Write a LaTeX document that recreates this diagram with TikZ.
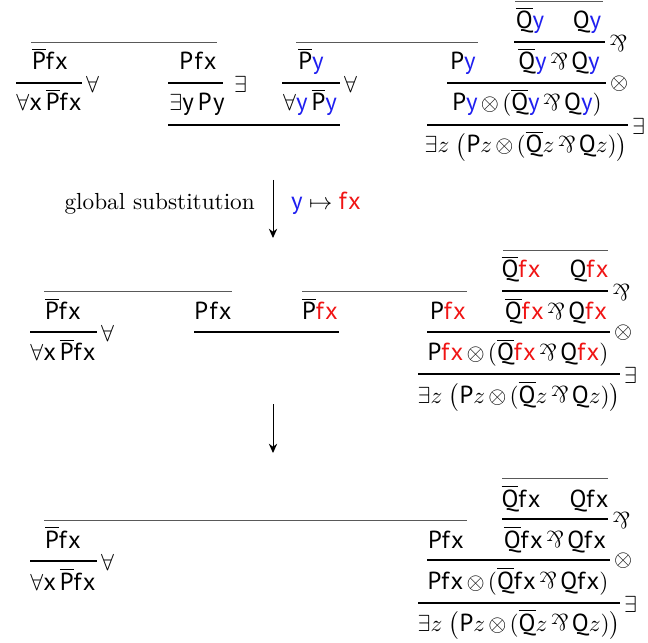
\documentclass[tikz,border=0pt]{standalone}
\usepackage{fontspec}
\usepackage{amsmath, graphicx, xcolor}
\usetikzlibrary{arrows.meta}
\newfontfamily\atomfont[Scale=1.06, LetterSpace=6]{PT Sans}
\definecolor{VARblue}{HTML}{1F1FF0}
\definecolor{TERMred}{HTML}{F01414}
\newcommand{\atm}[1]{\text{\atomfont #1}}
\newcommand{\dl}[1]{\overline{\atm{#1}}}
\newcommand{\vy}{\textcolor{VARblue}{\atm{y}}}
\newcommand{\tfx}{\textcolor{TERMred}{\atm{fx}}}
\newcommand{\parop}{\mathbin{\rotatebox[origin=c]{180}{$\&$}}}
\medmuskip=2.5mu plus 1mu minus 1mu

\begin{document}
\begin{tikzpicture}[x=0.43pt, y=-0.43pt,
      fml/.style={anchor=base, inner sep=0pt},
      rulebar/.style={line width=0.6pt},
      cutbar/.style={line width=1pt},
      axlink/.style={line width=0.4pt, black!65},
      rlab/.style={anchor=west, inner sep=1.5pt, yshift=-0.5pt}]
   \useasboundingbox (0,0) rectangle (648,642);

   % before the substitution
   \node[fml] (a1p) at (50,70) {$\dl{P}\atm{fx}$};
   \node[fml] (a1c) at (49,111) {$\forall\atm{x}\,\dl{P}\atm{fx}$};
   \node[fml] (b1p) at (198,70) {$\atm{Pfx}$};
   \node[fml] (b1c) at (197,111) {$\exists\atm{y}\,\atm{Py}$};
   \node[fml] (c1p) at (311,70) {$\dl{P}\vy$};
   \node[fml] (c1c) at (310,111) {$\forall\vy\,\dl{P}\vy$};
   \node[fml] (d1q) at (530,29) {$\dl{Q}\vy$};
   \node[fml] (d1r) at (587,29) {$\atm{Q}\vy$};
   \node[fml] (d1p) at (463,70) {$\atm{P}\vy$};
   \node[fml] (d1s) at (559,70) {$\dl{Q}\vy\parop\atm{Q}\vy$};
   \node[fml] (d1t) at (527,111) {$\atm{P}\vy\otimes(\dl{Q}\vy\parop\atm{Q}\vy)$};
   \node[fml] (d1c) at (526,153) {$\exists z\;\bigl(\atm{P}z\otimes(\dl{Q}z\parop\atm{Q}z)\bigr)$};
   \draw[axlink] (31,42.5) -- (217,42.5);
   \draw[axlink] (296,42.5) -- (478,42.5);
   \draw[axlink] (515,1) -- (603,1);
   \draw[rulebar] (16,83) -- (82,83) node[rlab] (a1r) {$\forall$};
   \draw[rulebar] (168,83) -- (223,83) node[rlab, xshift=5\pgflinewidth] (b1r) {$\exists$};
   \draw[rulebar] (282,83) -- (340,83) node[rlab] (c1r) {$\forall$};
   \draw[rulebar] (514,42) -- (605,42) node[rlab] (d1r1) {$\parop$};
   \draw[rulebar] (447,83) -- (606,83) node[rlab] (d1r2) {$\otimes$};
   \draw[rulebar] (427,125) -- (628,125) node[rlab] (d1r3) {$\exists$};
   \draw[cutbar] (168,125) -- (340,125);

   % global substitution
   \coordinate (s1) at (273,180);
   \coordinate (t1) at (273,238);
   \draw[-{Stealth[length=4pt, width=3.6pt]}] (s1) -- (t1);
   \node[anchor=base east] (subst) at (263,210) {global substitution};
   \node[anchor=base west] (map) at (283,210) {$\vy\mapsto\tfx$};

   % after the substitution
   \node[fml] (a2p) at (63,320) {$\dl{P}\atm{fx}$};
   \node[fml] (a2c) at (63,361) {$\forall\atm{x}\,\dl{P}\atm{fx}$};
   \node[fml] (b2p) at (213,320) {$\atm{Pfx}$};
   \node[fml] (c2p) at (320,320) {$\dl{P}\tfx$};
   \node[fml] (d2q) at (521,278) {$\dl{Q}\tfx$};
   \node[fml] (d2r) at (589,278) {$\atm{Q}\tfx$};
   \node[fml] (d2p) at (448,320) {$\atm{P}\tfx$};
   \node[fml] (d2s) at (556,320) {$\dl{Q}\tfx\parop\atm{Q}\tfx$};
   \node[fml] (d2t) at (518,361) {$\atm{P}\tfx\otimes(\dl{Q}\tfx\parop\atm{Q}\tfx)$};
   \node[fml] (d2c) at (519,403) {$\exists z\;\bigl(\atm{P}z\otimes(\dl{Q}z\parop\atm{Q}z)\bigr)$};
   \draw[axlink] (44,291) -- (232,291);
   \draw[axlink] (302,291) -- (467,291);
   \draw[axlink] (503,250) -- (608,250);
   \draw[rulebar] (30,332) -- (97,332) node[rlab] (a2r) {$\forall$};
   \draw[rulebar] (502,291) -- (608,291) node[rlab] (d2r1) {$\parop$};
   \draw[rulebar] (427,332) -- (610,332) node[rlab] (d2r2) {$\otimes$};
   \draw[rulebar] (418,374) -- (620,374) node[rlab] (d2r3) {$\exists$};
   \draw[cutbar] (194,332) -- (339,332);

   % axiom and cut eliminated
   \coordinate (s2) at (273,404);
   \coordinate (t2) at (273,453);
   \draw[-{Stealth[length=4pt, width=3.6pt]}] (s2) -- (t2);

   \node[fml] (a3p) at (63,548) {$\dl{P}\atm{fx}$};
   \node[fml] (a3c) at (63,590) {$\forall\atm{x}\,\dl{P}\atm{fx}$};
   \node[fml] (d3q) at (521,507) {$\dl{Q}\atm{fx}$};
   \node[fml] (d3r) at (589,507) {$\atm{Q}\atm{fx}$};
   \node[fml] (d3p) at (446,548) {$\atm{P}\atm{fx}$};
   \node[fml] (d3s) at (555,548) {$\dl{Q}\atm{fx}\parop\atm{Q}\atm{fx}$};
   \node[fml] (d3t) at (518,589) {$\atm{P}\atm{fx}\otimes(\dl{Q}\atm{fx}\parop\atm{Q}\atm{fx})$};
   \node[fml] (d3c) at (519,631) {$\exists z\;\bigl(\atm{P}z\otimes(\dl{Q}z\parop\atm{Q}z)\bigr)$};
   \draw[axlink] (44,520) -- (467,520);
   \draw[axlink] (502,478) -- (608,478);
   \draw[rulebar] (30,561) -- (97,561) node[rlab] (a3r) {$\forall$};
   \draw[rulebar] (502,519) -- (608,519) node[rlab] (d3r1) {$\parop$};
   \draw[rulebar] (427,560) -- (610,560) node[rlab] (d3r2) {$\otimes$};
   \draw[rulebar] (418,603) -- (620,603) node[rlab] (d3r3) {$\exists$};
\end{tikzpicture}
\end{document}
